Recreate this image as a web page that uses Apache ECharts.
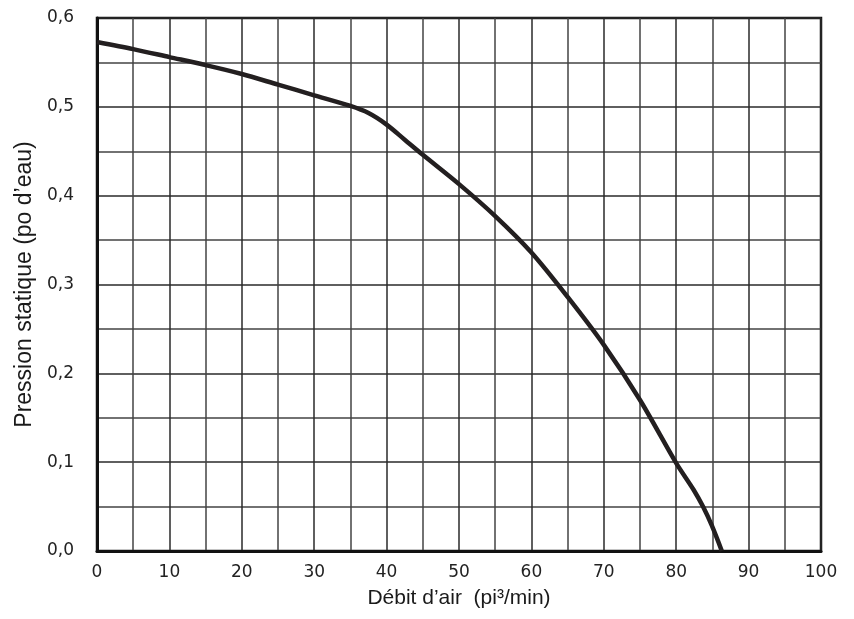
<!DOCTYPE html>
<html>
<head>
<meta charset="utf-8">
<script src="https://cdn.jsdelivr.net/npm/echarts@6/dist/echarts.min.js"></script>
<style>
html,body{margin:0;padding:0;background:#fff;}
#c{width:854px;height:619px;}
</style>
</head>
<body>
<div id="c"></div>
<script>
var flow = [0, 5, 10, 15, 20, 25, 30, 35, 37.5, 40, 42.5, 45, 50, 55, 60, 65, 70, 75, 80, 82.4, 83.7, 84.9, 86.3];
var pressure = [0.573, 0.565, 0.556, 0.547, 0.537, 0.525, 0.513, 0.501, 0.493, 0.480, 0.463, 0.446, 0.413, 0.377, 0.336, 0.286, 0.232, 0.170, 0.099, 0.069, 0.050, 0.029, 0.0];
var xTitle = 'Débit d’air  (pi³/min)';
var yTitle = 'Pression statique (po d’eau)';

var pts = flow.map(function (f, i) { return [f, pressure[i]]; });
var chart = echarts.init(document.getElementById('c'));
chart.setOption({
  animation: false,
  grid: { left: 97, right: 33, top: 18, bottom: 68, show: true, borderColor: '#111', borderWidth: 2.5, backgroundColor: 'transparent' },
  xAxis: {
    type: 'value', min: 0, max: 100, interval: 10,
    name: xTitle, nameLocation: 'middle', nameGap: 37,
    nameTextStyle: { fontFamily: 'Liberation Sans', fontSize: 21, color: '#1a1a1a' },
    axisLine: { show: true, lineStyle: { color: '#111', width: 3 } },
    axisTick: { show: false },
    axisLabel: { fontFamily: 'DejaVu Sans', fontSize: 17, color: '#222', margin: 13 },
    splitLine: { show: true, lineStyle: { color: '#2a2a2a', width: 1.5 } },
    minorTick: { show: false, splitNumber: 2 },
    minorSplitLine: { show: true, lineStyle: { color: '#444', width: 1.5 } }
  },
  yAxis: {
    type: 'value', min: 0, max: 0.6, interval: 0.1,
    name: yTitle, nameLocation: 'middle', nameGap: 61, nameRotate: 90,
    nameTextStyle: { fontFamily: 'Liberation Sans', fontSize: 23, color: '#1a1a1a' },
    axisLine: { show: true, lineStyle: { color: '#111', width: 3 } },
    axisTick: { show: false },
    axisLabel: { fontFamily: 'DejaVu Sans', fontSize: 17, color: '#222', margin: 23,
      padding: [0, 0, 4, 0],
      formatter: function (v) { return v.toFixed(1).replace('.', ','); } },
    splitLine: { show: true, lineStyle: { color: '#2a2a2a', width: 1.5 } },
    minorTick: { show: false, splitNumber: 2 },
    minorSplitLine: { show: true, lineStyle: { color: '#444', width: 1.5 } }
  },
  series: [{
    type: 'line', data: pts, smooth: 0.3, showSymbol: false,
    lineStyle: { color: '#231f20', width: 4.5 }, z: 5
  }]
});
</script>
</body>
</html>
